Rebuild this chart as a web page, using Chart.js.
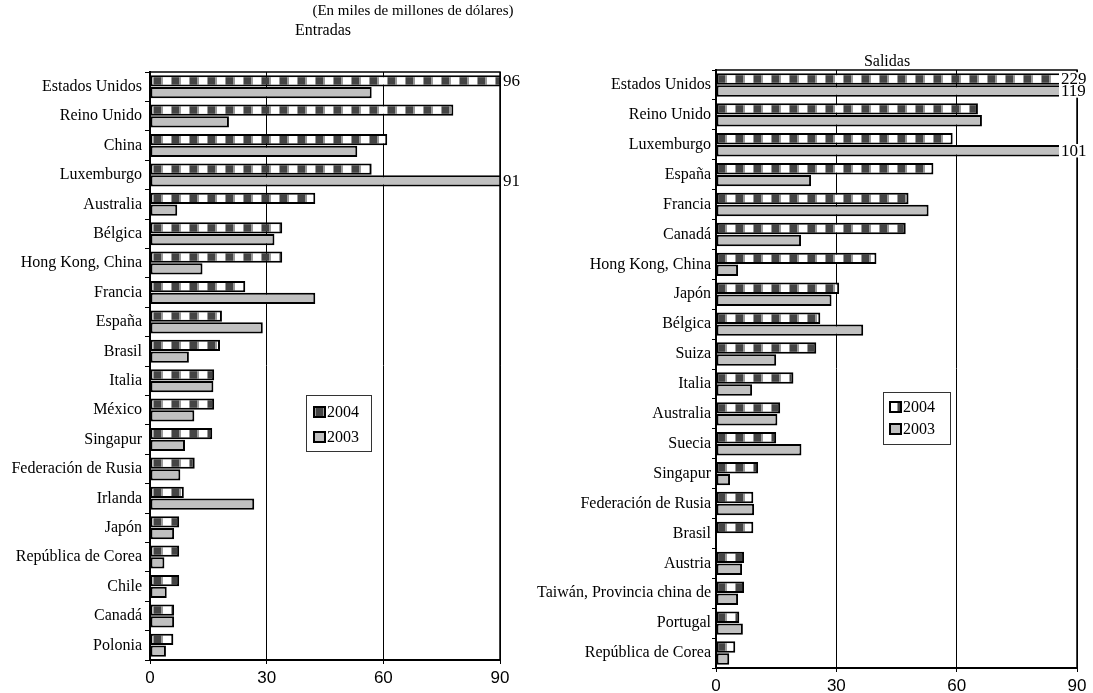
<!DOCTYPE html>
<html>
<head>
<meta charset="utf-8">
<script src="https://cdn.jsdelivr.net/npm/chart.js@4.4.1/dist/chart.umd.min.js"></script>
<style>
    html, body { margin: 0; padding: 0; background: #fff; }
    #page { position: relative; width: 1093px; height: 693px; overflow: hidden; font-family: 'Liberation Serif', serif; color: #000; }
    canvas { position: absolute; top: 0; }
    .caption { position: absolute; font-size: 16px; line-height: 18px; white-space: nowrap; transform: translateX(-50%); }
</style>
</head>
<body>
<div id="page">
    <canvas id="chartIn" width="546" height="693" style="left:0"></canvas>
    <canvas id="chartOut" width="583" height="693" style="left:510px"></canvas>
    <div class="caption" style="left:413px; top:1px; font-size:15px;">(En miles de millones de dólares)</div>
    <div class="caption" style="left:323px; top:21px;">Entradas</div>
    <div class="caption" style="left:887px; top:52px;">Salidas</div>
</div>
<script>
// Entradas (inflows)
const inCategories = ['Estados Unidos', 'Reino Unido', 'China', 'Luxemburgo', 'Australia', 'Bélgica', 'Hong Kong, China', 'Francia', 'España', 'Brasil', 'Italia', 'México', 'Singapur', 'Federación de Rusia', 'Irlanda', 'Japón', 'República de Corea', 'Chile', 'Canadá', 'Polonia'];
const in2004 = [96, 78, 61, 57, 42.5, 34, 34, 24.5, 18.5, 18, 16.5, 16.5, 16, 11.5, 8.7, 7.5, 7.5, 7.5, 6.2, 6];
const in2003 = [57, 20.3, 53.3, 91, 7, 32, 13.5, 42.5, 29, 10, 16.3, 11.4, 9, 7.8, 26.8, 6.2, 3.7, 4.3, 6.2, 4.1];

// Salidas (outflows)
const outCategories = ['Estados Unidos', 'Reino Unido', 'Luxemburgo', 'España', 'Francia', 'Canadá', 'Hong Kong, China', 'Japón', 'Bélgica', 'Suiza', 'Italia', 'Australia', 'Suecia', 'Singapur', 'Federación de Rusia', 'Brasil', 'Austria', 'Taiwán, Provincia china de', 'Portugal', 'República de Corea'];
const out2004 = [229, 65.3, 59, 54.2, 48, 47.3, 40, 30.7, 26, 25, 19.3, 16, 15, 10.5, 9.3, 9.3, 7, 7, 5.8, 4.8];
const out2003 = [119, 66.3, 101, 23.7, 53, 21.2, 5.5, 28.8, 36.7, 15, 9, 15.3, 21.3, 3.5, 9.5, 0, 6.5, 5.5, 6.7, 3.3];

const xTicks = [0, 30, 60, 90];
const seriesLabels = ['2004', '2003'];

const makeCheckPattern = () => {
    const c = document.createElement('canvas');
    c.width = 18; c.height = 4;
    const g = c.getContext('2d');
    g.fillStyle = '#fff'; g.fillRect(0, 0, 18, 4);
    g.fillStyle = '#9a9a9a';
    g.fillRect(0, 0, 1, 4); g.fillRect(9, 0, 1, 4); g.fillRect(17, 0, 1, 4);
    g.fillStyle = '#444'; g.fillRect(10, 0, 7, 4);
    return g.createPattern(c, 'repeat');
};
const checkPattern = makeCheckPattern();

// frame, clipped-value labels and boxed legend
const decorations = {
    id: 'decorations',
    afterDraw(chart, args, opts) {
        const { ctx, chartArea } = chart;
        const max = chart.scales.x.max;
        ctx.save();
        ctx.strokeStyle = '#000';
        ctx.lineWidth = 1.5;
        ctx.strokeRect(chartArea.left, chartArea.top, chartArea.width, chartArea.height);

        ctx.font = '17px "Liberation Serif"';
        ctx.textBaseline = 'middle';
        ctx.textAlign = 'left';
        chart.data.datasets.forEach((ds, di) => {
            const meta = chart.getDatasetMeta(di);
            ds.data.forEach((v, i) => {
                if (v <= max) return;
                const bar = meta.data[i];
                const x = chartArea.right + opts.labelOffset;
                const w = ctx.measureText(String(v)).width;
                ctx.fillStyle = '#fff';
                ctx.fillRect(x, bar.y - bar.height / 2 - 1, w + 6, bar.height + 2);
                ctx.fillStyle = '#000';
                ctx.fillText(String(v), x + 2, bar.y + 1);
            });
        });

        const L = opts.legend;
        ctx.fillStyle = '#fff';
        ctx.fillRect(L.x, L.y, L.w, L.h);
        ctx.lineWidth = 1;
        ctx.strokeStyle = '#333';
        ctx.strokeRect(L.x + 0.5, L.y + 0.5, L.w, L.h);
        ctx.font = '16px "Liberation Serif"';
        chart.data.datasets.forEach((ds, di) => {
            const cy = L.y + L.rows[di];
            ctx.fillStyle = ds.backgroundColor;
            ctx.fillRect(L.x + L.sx, cy - 5, 11, 10);
            ctx.lineWidth = 2;
            ctx.strokeStyle = '#000';
            ctx.strokeRect(L.x + L.sx, cy - 5, 11, 10);
            ctx.fillStyle = '#000';
            ctx.fillText(ds.label, L.x + L.sx + 13, cy + 1);
        });
        ctx.restore();
    }
};

const buildChart = (id, cats, v2004, v2003, o) => new Chart(document.getElementById(id), {
    type: 'bar',
    data: {
        labels: cats,
        datasets: [
            { label: seriesLabels[0], data: v2004, backgroundColor: checkPattern, borderColor: '#000', borderWidth: 2, borderSkipped: false, categoryPercentage: 0.8, barPercentage: 0.96 },
            { label: seriesLabels[1], data: v2003, backgroundColor: '#c0c0c0', borderColor: '#000', borderWidth: 2, borderSkipped: false, categoryPercentage: 0.8, barPercentage: 0.96 }
        ]
    },
    options: {
        indexAxis: 'y',
        responsive: false,
        animation: false,
        layout: { padding: { top: o.top, right: o.right, left: 0, bottom: 0 } },
        plugins: {
            legend: { display: false },
            tooltip: { enabled: false },
            decorations: { labelOffset: o.labelOffset, legend: o.legend }
        },
        scales: {
            x: {
                min: xTicks[0],
                max: xTicks[xTicks.length - 1],
                afterBuildTicks: axis => { axis.ticks = xTicks.map(v => ({ value: v })); },
                ticks: { color: '#000', font: { family: 'Liberation Sans', size: 17 }, padding: 4 },
                grid: { color: '#000', lineWidth: 1, tickLength: 4 },
                border: { color: '#000', width: 2 },
                afterFit: axis => { axis.height = o.xHeight; }
            },
            y: {
                ticks: { color: '#000', font: { family: 'Liberation Serif', size: 16 }, padding: o.yPad, autoSkip: false },
                grid: { offset: true, drawOnChartArea: false, color: '#000', tickLength: o.yTick },
                border: { color: '#000', width: 2 },
                afterFit: axis => { axis.width = o.yWidth; }
            }
        }
    },
    plugins: [decorations]
});

buildChart('chartIn', inCategories, in2004, in2003, {
    top: 72, right: 46, xHeight: 33, yWidth: 150, yPad: 3, yTick: 5, labelOffset: 1,
    legend: { x: 306, y: 395, w: 65, h: 56, sx: 8, rows: [17, 42] }
});

buildChart('chartOut', outCategories, out2004, out2003, {
    top: 70, right: 16, xHeight: 25, yWidth: 206, yPad: 1, yTick: 4, labelOffset: -18,
    legend: { x: 373, y: 392, w: 67, h: 52, sx: 7, rows: [15, 37] }
});
</script>
</body>
</html>
